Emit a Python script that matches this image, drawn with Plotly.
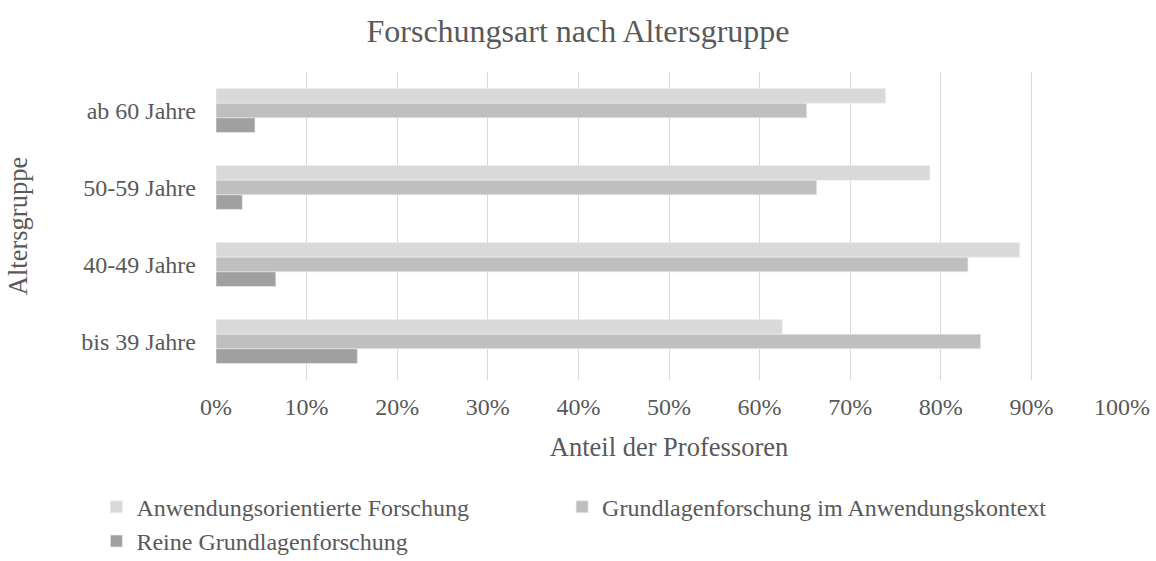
import plotly.graph_objects as go

# Age groups, listed top to bottom
age_groups = ["ab 60 Jahre", "50-59 Jahre", "40-49 Jahre", "bis 39 Jahre"]

# Share of professors per research type (%)
anwendungsorientiert = [73.9, 78.8, 88.7, 62.5]
grundlagen_anwendung = [65.2, 66.3, 83.0, 84.4]
reine_grundlagen = [4.3, 2.9, 6.6, 15.6]

series_names = [
    "Anwendungsorientierte Forschung",
    "Grundlagenforschung im Anwendungskontext",
    "Reine Grundlagenforschung",
]
series_values = [anwendungsorientiert, grundlagen_anwendung, reine_grundlagen]
series_colors = ["#d9d9d9", "#bfbfbf", "#a0a0a0"]
# first and third series share the left legend column, the second sits on the right
series_legends = ["legend", "legend2", "legend"]

tick_vals = [0, 10, 20, 30, 40, 50, 60, 70, 80, 90, 100]
tick_text = [f"{v}%" for v in tick_vals]

FONT = "Liberation Serif, Times New Roman, serif"
TEXT = "#595959"

fig = go.Figure()
for name, vals, color, leg in zip(series_names, series_values, series_colors, series_legends):
    fig.add_trace(go.Bar(
        y=age_groups, x=vals, name=name, orientation="h",
        legend=leg, legendgroup=name,
        marker=dict(color=color, line=dict(color="#ececec", width=0.6)),
    ))

legend_common = dict(orientation="v", xanchor="left", yanchor="top",
                     font=dict(size=24, color=TEXT), itemwidth=30,
                     tracegroupgap=0, bgcolor="rgba(0,0,0,0)")

fig.update_layout(
    width=1156, height=561,
    margin=dict(l=216, r=34, t=72, b=181, autoexpand=False),
    paper_bgcolor="white", plot_bgcolor="white",
    barmode="group", bargap=0.43, bargroupgap=0,
    font=dict(family=FONT, color=TEXT, size=24),
    title=dict(text="Forschungsart nach Altersgruppe", x=0.5, xref="container",
               y=0.945, yref="container", yanchor="middle",
               font=dict(size=32, color=TEXT, family=FONT)),
    xaxis=dict(range=[0, 100], tickvals=tick_vals, ticktext=tick_text,
               showgrid=True, gridcolor="#d9d9d9", gridwidth=1.3,
               zeroline=False, showline=False, ticks="",
               ticklabelstandoff=10,
               tickfont=dict(size=24, color=TEXT),
               title=dict(text="Anteil der Professoren", standoff=18,
                          font=dict(size=26.5, color=TEXT))),
    yaxis=dict(autorange="reversed", showgrid=False, zeroline=False,
               showline=False, ticks="", ticklabelstandoff=19,
               tickfont=dict(size=24, color=TEXT),
               title=dict(text="Altersgruppe", standoff=46,
                          font=dict(size=26.5, color=TEXT))),
    legend=dict(x=-0.132, y=-0.34, **legend_common),
    legend2=dict(x=0.382, y=-0.34, **legend_common),
)

fig.write_html("out.html")
